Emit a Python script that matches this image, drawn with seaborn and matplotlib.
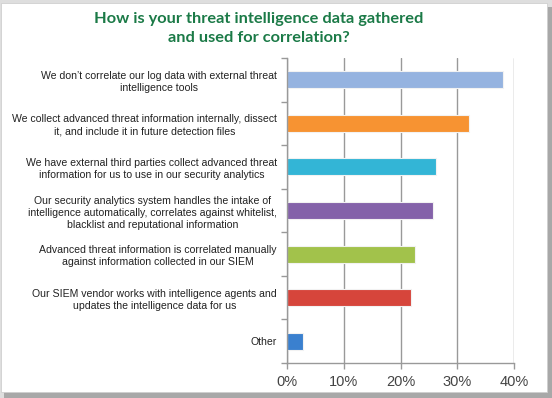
import matplotlib
matplotlib.use("Agg")
import matplotlib.pyplot as plt
import seaborn as sns
import pandas as pd
from matplotlib.patches import Rectangle
from matplotlib.ticker import FixedLocator, FuncFormatter

categories = [
    "We don\u2019t correlate our log data with external threat\nintelligence tools",
    "We collect advanced threat information internally, dissect\nit, and include it in future detection files",
    "We have external third parties collect advanced threat\ninformation for us to use in our security analytics",
    "Our security analytics system handles the intake of\nintelligence automatically, correlates against whitelist,\nblacklist and reputational information",
    "Advanced threat information is correlated manually\nagainst information collected in our SIEM",
    "Our SIEM vendor works with intelligence agents and\nupdates the intelligence data for us",
    "Other",
]
values = [38.1, 32.0, 26.3, 25.7, 22.5, 21.8, 2.8]
colors = ["#95B3E0", "#F79332", "#33B5D6", "#8462A9", "#A2C24B", "#D6453B", "#3A80CF"]
x_ticks = [0, 10, 20, 30, 40]
title = "How is your threat intelligence data gathered\nand used for correlation?"

df = pd.DataFrame({"category": categories, "value": values})

sns.set_theme(style="white")
plt.rcParams["font.family"] = ["Liberation Sans", "DejaVu Sans"]

W, H = 552, 398
fig = plt.figure(figsize=(W / 100, H / 100), dpi=100)
fig.patch.set_facecolor("#dedede")

# shadow and panel
fig.patches.append(Rectangle((4 / W, 0), 548 / W, 1 - 7 / H, transform=fig.transFigure,
                             facecolor="#a8a8a8", edgecolor="none", zorder=0))
fig.patches.append(Rectangle((1 / W, 1 - 392 / H), 546 / W, 389 / H, transform=fig.transFigure,
                             facecolor="white", edgecolor="#cfcfcf", linewidth=0.6, zorder=1))

ax = fig.add_axes([286.7 / W, 1 - 363 / H, (514.3 - 286.7) / W, (363 - 58) / H])
ax.set_facecolor("none")
ax.set_zorder(2)

sns.barplot(data=df, y="category", x="value", hue="category", palette=colors,
            legend=False, orient="h", width=0.39, ax=ax,
            edgecolor="#f2f2f2", linewidth=0.8, saturation=1)

ax.set_xlim(0, 40)
ax.set_ylim(len(categories) - 0.5, -0.5)
ax.xaxis.set_major_locator(FixedLocator(x_ticks))
ax.xaxis.set_major_formatter(FuncFormatter(lambda v, p: f"{int(v)}%"))
ax.grid(axis="x", color="#999999", linewidth=1.0)
ax.set_axisbelow(True)
ax.set_xlabel("")
ax.set_ylabel("")

for s in ["top", "right"]:
    ax.spines[s].set_visible(False)
for s in ["left", "bottom"]:
    ax.spines[s].set_color("#999999")
    ax.spines[s].set_linewidth(1.0)

ax.tick_params(axis="x", which="major", bottom=True, length=4, width=1, color="#999999",
               labelsize=10.5, labelcolor="#444444", pad=5)
ax.set_yticks([i - 0.5 for i in range(len(categories) + 1)], minor=True)
ax.tick_params(axis="y", which="minor", left=True, length=4, width=1, color="#999999")
ax.tick_params(axis="y", which="major", left=False, length=0, labelsize=7.6,
               labelcolor="#222222", pad=7)
for lbl in ax.get_yticklabels():
    lbl.set_horizontalalignment("right")
    lbl.set_multialignment("center")
    lbl.set_linespacing(1.25)

fig.text(259 / W, 1 - 28.5 / H, title, ha="center", va="center", fontsize=11.8,
         fontweight="bold", color="#1B7A47", family=["Lato", "DejaVu Sans"], linespacing=1.45)

fig.savefig("out.png", dpi=100, facecolor=fig.get_facecolor())
